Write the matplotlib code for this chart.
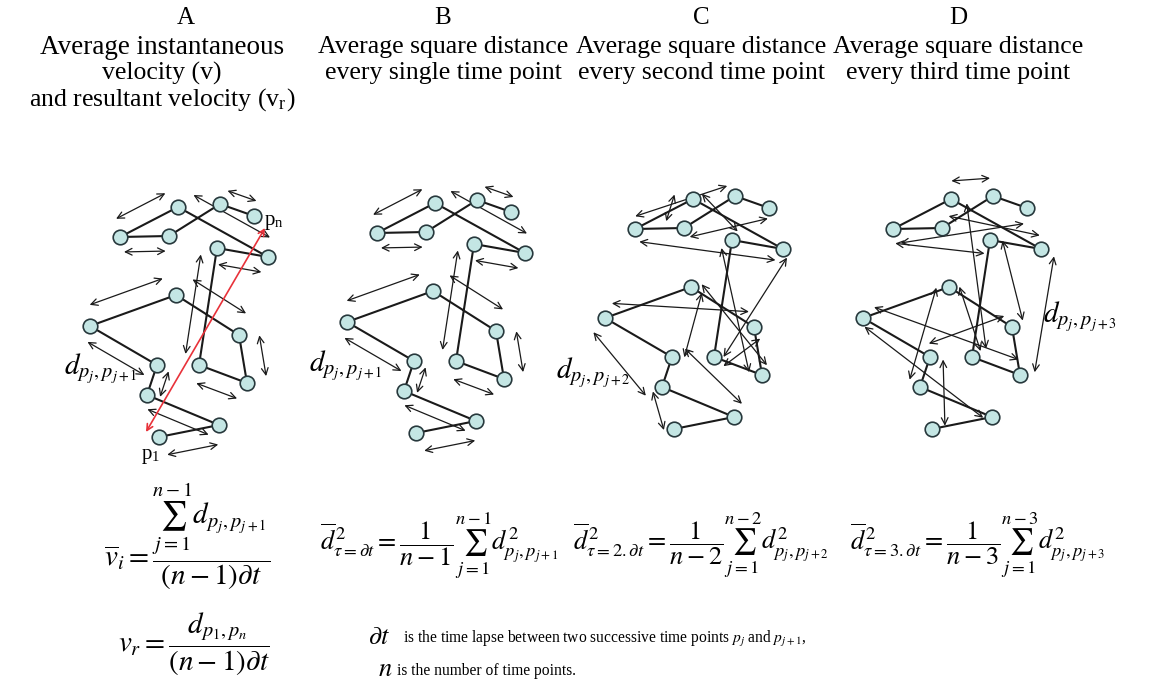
import numpy as np
import matplotlib.pyplot as plt

plt.rcParams["font.family"] = ["Liberation Serif", "DejaVu Serif"]
plt.rcParams["mathtext.fontset"] = "stix"

# positions p1 ... pn of the tracked cell (frame of panel A, pixel units)
track_x = [159, 219, 147, 157, 90, 176, 239, 247, 199, 217, 268, 178, 120, 169, 220, 254]
track_y = [437, 425, 395, 365, 326, 295, 335, 383, 365, 248, 257, 207, 237, 236, 204, 216]

panel_letters = ["A", "B", "C", "D"]
panel_lags = [1, 1, 2, 3]
panel_titles = [
    ["Average instantaneous", "velocity (v)", r"and resultant velocity (v$_\mathregular{r}$)"],
    ["Average square distance", "every single time point"],
    ["Average square distance", "every second time point"],
    ["Average square distance", "every third time point"],
]

# side offset of each displacement arrow (right-hand side of travel is positive)
arrow_side = {
    1: [19, -13, 13, -15, -20, -22, -20, -18, -15, 16, 18, 18, 15, None, -15],
    2: [-10, 15, -18, 12, -15, -10, -13, -12, 8, 10, -12, 19, -12, 10],
    3: [13, -6, -12, -13, -14, -10, 12, 14, 15, -14, 13, -18, 15],
}

# panel placement
panel_dx = [0, 257, 515, 773]
panel_dy = [0, -4, -8, -8]
title_x = [186, 443, 701, 958]

NODE_FACE = "#c4e6e4"
NODE_EDGE = "#27383c"


def draw_track(ax, dx, dy, lag, sides, shrink):
    x = np.array(track_x, float) + dx
    y = np.array(track_y, float) + dy
    ax.plot(x, y, color="#1a1a1a", lw=1.5, zorder=2, solid_capstyle="round")
    for j, side in enumerate(sides):
        if side is None:
            continue
        a = np.array([x[j], y[j]])
        b = np.array([x[j + lag], y[j + lag]])
        d = (b - a) / np.hypot(*(b - a))
        n = np.array([-d[1], d[0]])
        mid = (a + b) / 2 + side * n
        half = (b - a) / 2 * shrink
        ax.annotate("", xy=mid + half, xytext=mid - half,
                    arrowprops=dict(arrowstyle="<->", color="#1a1a1a", lw=0.9,
                                    shrinkA=0, shrinkB=0, mutation_scale=12),
                    zorder=3)
    ax.plot(x, y, "o", ms=10.5, mfc=NODE_FACE, mec=NODE_EDGE, mew=1.2, zorder=4)
    return x, y


fig = plt.figure(figsize=(11.5, 6.95), dpi=100)
ax = fig.add_axes([0, 0, 1, 1])
ax.set_xlim(0, 1150)
ax.set_ylim(695, 0)
ax.axis("off")

for i, letter in enumerate(panel_letters):
    ax.text(title_x[i], 18, letter, ha="center", va="center", fontsize=18)
    for k, line in enumerate(panel_titles[i]):
        cx = 162 if i == 0 else title_x[i]
        size = 19.5 if (i == 0 and k == 0) else 18.5
        ax.text(cx, 47 + 26.5 * k, line, ha="center", va="center", fontsize=size)
    lag = panel_lags[i]
    x, y = draw_track(ax, panel_dx[i], panel_dy[i], lag, arrow_side[lag],
                      0.85 if lag == 1 else 0.92)
    if i == 0:
        # resultant displacement p1 -> pn
        ax.annotate("", xy=(x[-1] + 11, y[-1] + 12), xytext=(x[0] - 13, y[0] - 5),
                    arrowprops=dict(arrowstyle="<->", color="#e8323a", lw=1.2,
                                    shrinkA=0, shrinkB=0, mutation_scale=11),
                    zorder=3)
        ax.text(x[-1] + 10, y[-1] + 6, r"p$_\mathregular{n}$", fontsize=15, va="center")
        ax.text(x[0] - 8, y[0] + 20, r"p$_\mathregular{1}$", fontsize=15, va="center", ha="center")

ax.text(64, 369, r"$d_{p_j,p_{j+1}}$", fontsize=21, va="center")
ax.text(309, 366, r"$d_{p_j,p_{j+1}}$", fontsize=21, va="center")
ax.text(556, 373, r"$d_{p_j,p_{j+2}}$", fontsize=21, va="center")
ax.text(1043, 317, r"$d_{p_j,p_{j+3}}$", fontsize=21, va="center")

# formulas
ax.text(104, 536, r"$\overline{v}_i = \dfrac{\sum_{j=1}^{n-1} d_{p_j,p_{j+1}}}{(n-1)\partial t}$",
        fontsize=21, va="center")
ax.text(118, 644, r"$v_r = \dfrac{d_{p_1,p_n}}{(n-1)\partial t}$", fontsize=21, va="center")
ax.text(320, 545, r"$\overline{d}^{\,2}_{\tau=\partial t} = \dfrac{1}{n-1}\sum_{j=1}^{n-1} d^2_{p_j,p_{j+1}}$",
        fontsize=19, va="center")
ax.text(573, 545, r"$\overline{d}^{\,2}_{\tau=2.\partial t} = \dfrac{1}{n-2}\sum_{j=1}^{n-2} d^2_{p_j,p_{j+2}}$",
        fontsize=19, va="center")
ax.text(850, 545, r"$\overline{d}^{\,2}_{\tau=3.\partial t} = \dfrac{1}{n-3}\sum_{j=1}^{n-3} d^2_{p_j,p_{j+3}}$",
        fontsize=19, va="center")

ax.text(368, 638, r"$\partial t$", fontsize=19, va="center")
ax.text(403, 639, r"is the time lapse between two successive time points $p_j$ and $p_{j+1}$,",
        fontsize=11.2, va="center")
ax.text(378, 670, r"$n$", fontsize=19, va="center")
ax.text(397, 671, "is the number of time points.", fontsize=11.2, va="center")

fig.savefig("out.png", dpi=100)
